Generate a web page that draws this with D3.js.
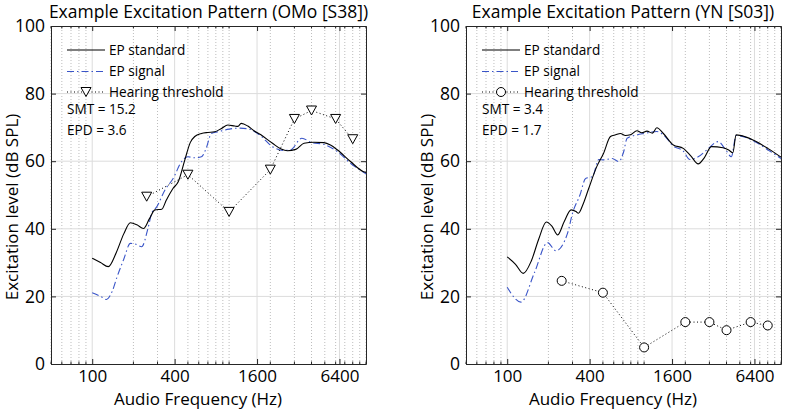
<!DOCTYPE html>
<html><head><meta charset="utf-8">
<script src="https://cdn.jsdelivr.net/npm/d3@7"></script>
<style>body{margin:0;background:#fff}svg{display:block}text{font-family:"Open Sans",sans-serif;fill:#000}</style>
</head><body><svg id="c" width="785" height="410"></svg>
<script>
// ---------- data ----------
const xTicks = [100, 400, 1600, 6400];
const yTicks = [0, 20, 40, 60, 80, 100];
const thrFreq = [250, 500, 1000, 2000, 3000, 4000, 6000, 8000];

// Left panel (OMo [S38])
const leftStdF = [100,115,131,150,170,190,212,237,262,287,322,348,390,425,475,520,561,628,700,784,880,979,1100,1160,1225,1370,1520,1707,2075,2400,2665,3070,3530,4160,4930,5500,6200,7700,9600,10000];
const leftStdV = [31.3,30.0,28.8,33.0,38.5,41.8,41.2,40.1,43.0,45.6,45.8,48.5,52.0,53.9,60.4,65.5,67.3,68.2,68.5,68.7,69.7,70.7,70.4,70.3,71.2,70.4,69.0,67.8,65.3,63.6,63.1,63.5,65.3,65.6,65.5,64.8,63.3,59.9,56.9,56.7];
const leftSigF = [100,115,127,140,152,170,190,206,230,255,272,296,340,390,450,500,560,628,680,742,830,1000,1200,1400,1700,2075,2500,2800,3400,4000,4900,6200,7700,10000];
const leftSigV = [21.1,20.0,19.1,21.5,25.8,31.0,35.7,35.5,34.7,40.0,44.6,46.5,51.5,54.9,59.9,61.3,61.0,61.3,63.8,68.2,68.7,69.5,69.8,69.5,67.5,64.3,63.2,63.3,66.8,65.5,65.0,62.8,59.4,56.3];
const leftThr = [49.5, 56, 45, 57.5, 72.5, 75, 72.5, 66.5];

// Right panel (YN [S03])
const rightStdF = [100,115,131,150,170,193,212,234,260,293,318,331,360,392,451,505,568,620,671,730,793,887,960,1049,1150,1239,1383,1635,1932,2200,2483,2750,3105,3770,4150,4450,4700,5500,6585,8000,10000];
const rightStdV = [31.7,29.5,26.8,30.5,37.0,42.0,40.8,38.2,42.0,45.6,45.1,44.6,47.5,51.7,58.4,62.3,67.3,67.8,68.2,67.6,67.8,69.0,68.4,68.9,68.3,69.9,68.2,64.8,63.8,61.5,59.2,61.0,64.3,64.0,63.3,62.5,67.8,67.2,65.8,63.8,61.2];
const rightSigF = [100,126,158,197,227,276,300,340,374,419,467,508,584,653,709,751,887,1000,1239,1383,1635,1932,2161,2483,2900,3468,4000,4337,4700,6585,8000,10000];
const rightSigV = [22.7,18.3,27.0,35.9,33.5,38.7,44.6,50.0,54.9,55.4,60.5,60.4,60.8,59.9,62.8,66.8,67.8,68.2,68.8,67.8,64.5,63.0,60.5,61.3,63.5,65.8,63.0,61.3,67.6,65.6,63.4,60.8];
const rightThr = [24.6, 21.1, 4.9, 12.4, 12.4, 10, 12.4, 11.4];

const panels = [
  {title:"Example Excitation Pattern (OMo [S38])", x0:51, x1:366, stdF:leftStdF, stdV:leftStdV, sigF:leftSigF, sigV:leftSigV, thr:leftThr, marker:"tri", smt:"SMT = 15.2", epd:"EPD = 3.6", ylabX:18, xlabX:198, titleX:208.5},
  {title:"Example Excitation Pattern (YN [S03])", x0:466, x1:781, stdF:rightStdF, stdV:rightStdV, sigF:rightSigF, sigV:rightSigV, thr:rightThr, marker:"circ", smt:"SMT = 3.4", epd:"EPD = 1.7", ylabX:433, xlabX:613, titleX:623}
];

const svg = d3.select("#c");
const blue = "#3a55c8";
const axisCol = "#262626";
const FS = "17px";

function minorTicks(){
  const t=[];
  [10,100,1000].forEach(d=>{for(let k=1;k<=9;k++){const v=k*d; if(v>=50&&v<=10000) t.push(v);}});
  t.push(10000);
  return t.filter(v=>!xTicks.includes(v));
}

panels.forEach(p=>{
  const x = d3.scaleLog().domain([50,10000]).range([p.x0,p.x1]);
  const y = d3.scaleLinear().domain([0,100]).range([364,26]);
  const g = svg.append("g");
  const minors = minorTicks();

  // minor dotted grid
  g.selectAll(".mg").data(minors).join("line")
    .attr("x1",d=>x(d)).attr("x2",d=>x(d)).attr("y1",y(0)).attr("y2",y(100))
    .attr("stroke","#bdbdbd").attr("stroke-width",1).attr("stroke-dasharray","1,2");
  // major grid
  g.selectAll(".vg").data(xTicks).join("line")
    .attr("x1",d=>x(d)).attr("x2",d=>x(d)).attr("y1",y(0)).attr("y2",y(100))
    .attr("stroke","#dcdcdc").attr("stroke-width",1);
  g.selectAll(".hg").data(yTicks.slice(1,-1)).join("line")
    .attr("y1",d=>y(d)).attr("y2",d=>y(d)).attr("x1",p.x0).attr("x2",p.x1)
    .attr("stroke","#dcdcdc").attr("stroke-width",1);

  // axes
  const xb = d3.axisBottom(x).tickValues(xTicks).tickFormat(d3.format("d")).tickSizeInner(-5).tickSizeOuter(0).tickPadding(6);
  const gx = g.append("g").attr("transform",`translate(0,${y(0)})`).call(xb);
  gx.select(".domain").attr("stroke",axisCol);
  gx.selectAll(".tick line").attr("stroke",axisCol);
  gx.selectAll("text").style("font-size",FS).attr("fill","#000");
  const xt = d3.axisTop(x).tickValues(xTicks).tickFormat("").tickSizeInner(-5).tickSizeOuter(0);
  const gxt = g.append("g").attr("transform",`translate(0,${y(100)})`).call(xt);
  gxt.select(".domain").attr("stroke",axisCol);
  gxt.selectAll(".tick line").attr("stroke",axisCol);
  // minor x ticks
  [y(0), y(100)].forEach((yy,i)=>{
    g.selectAll(null).data(minors).join("line")
      .attr("x1",d=>x(d)).attr("x2",d=>x(d)).attr("y1",yy).attr("y2",i===0?yy-2.5:yy+2.5)
      .attr("stroke",axisCol);
  });
  const yl = d3.axisLeft(y).tickValues(yTicks).tickSizeInner(-5).tickSizeOuter(0).tickPadding(6);
  const gy = g.append("g").attr("transform",`translate(${p.x0},0)`).call(yl);
  gy.select(".domain").attr("stroke",axisCol);
  gy.selectAll(".tick line").attr("stroke",axisCol);
  gy.selectAll("text").style("font-size","17.5px").attr("fill","#000");
  const yr = d3.axisRight(y).tickValues(yTicks).tickFormat("").tickSizeInner(-5).tickSizeOuter(0);
  const gyr = g.append("g").attr("transform",`translate(${p.x1},0)`).call(yr);
  gyr.select(".domain").attr("stroke",axisCol);
  gyr.selectAll(".tick line").attr("stroke",axisCol);

  // lines
  const line = d3.line().x(d=>x(d[0])).y(d=>y(d[1])).curve(d3.curveMonotoneX);
  g.append("path").datum(d3.zip(p.sigF,p.sigV)).attr("d",line)
    .attr("fill","none").attr("stroke",blue).attr("stroke-width",1.1).attr("stroke-dasharray","7,3,1.5,3");
  g.append("path").datum(d3.zip(p.stdF,p.stdV)).attr("d",line)
    .attr("fill","none").attr("stroke","#000").attr("stroke-width",1.1);
  const lin = d3.line().x(d=>x(d[0])).y(d=>y(d[1]));
  g.append("path").datum(d3.zip(thrFreq,p.thr)).attr("d",lin)
    .attr("fill","none").attr("stroke","#000").attr("stroke-width",1).attr("stroke-dasharray","1,2.5");

  function drawMarker(sel,cx,cy){
    if(p.marker==="tri"){
      sel.append("path").attr("d",`M${cx-5},${cy-4.5}L${cx+5},${cy-4.5}L${cx},${cy+4.5}Z`)
        .attr("fill","#fff").attr("stroke","#000").attr("stroke-width",1);
    } else {
      sel.append("circle").attr("cx",cx).attr("cy",cy).attr("r",4.5)
        .attr("fill","#fff").attr("stroke","#000").attr("stroke-width",1);
    }
  }
  d3.zip(thrFreq,p.thr).forEach(d=>drawMarker(g,x(d[0]),y(d[1])));

  // legend
  const lx0 = p.x0+16, lx1 = p.x0+54, tx = p.x0+58;
  const lys = [50, 71.5, 92];
  g.append("line").attr("x1",lx0).attr("x2",lx1).attr("y1",lys[0]).attr("y2",lys[0]).attr("stroke","#000").attr("stroke-width",1.1);
  g.append("line").attr("x1",lx0).attr("x2",lx1).attr("y1",lys[1]).attr("y2",lys[1]).attr("stroke",blue).attr("stroke-width",1.1).attr("stroke-dasharray","7,3,1.5,3");
  g.append("line").attr("x1",lx0).attr("x2",lx1).attr("y1",lys[2]).attr("y2",lys[2]).attr("stroke","#000").attr("stroke-width",1).attr("stroke-dasharray","1,2.5");
  drawMarker(g,(lx0+lx1)/2,lys[2]);
  ["EP standard","EP signal","Hearing threshold"].forEach((t,i)=>{
    g.append("text").attr("x",tx).attr("y",lys[i]).attr("dy","0.35em").style("font-size","13.6px").text(t);
  });
  g.append("text").attr("x",lx0).attr("y",109.5).attr("dy","0.35em").style("font-size","13.6px").text(p.smt);
  g.append("text").attr("x",lx0).attr("y",130).attr("dy","0.35em").style("font-size","13.6px").text(p.epd);

  // titles / labels
  svg.append("text").attr("x",p.titleX).attr("y",18).attr("text-anchor","middle").style("font-size","17.5px").text(p.title);
  svg.append("text").attr("x",p.xlabX).attr("y",405).attr("text-anchor","middle").style("font-size",FS).text("Audio Frequency (Hz)");
  svg.append("text").attr("transform",`translate(${p.ylabX},207) rotate(-90)`).attr("text-anchor","middle").style("font-size",FS).text("Excitation level (dB SPL)");
});
</script></body></html>
